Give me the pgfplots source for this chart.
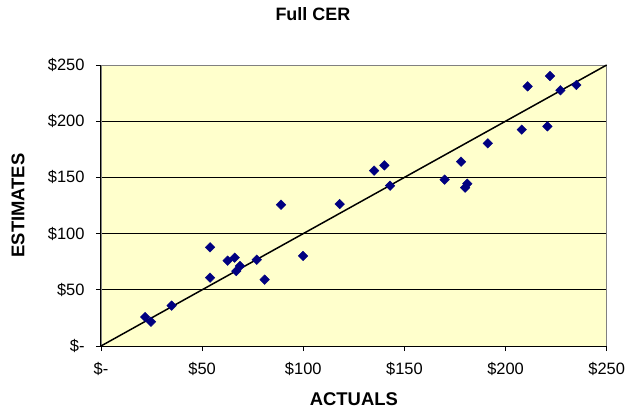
\documentclass[border=0pt]{standalone}
\usepackage{pgfplots}
\pgfplotsset{compat=1.18}
\usepackage{fontspec}
\setmainfont{Liberation Sans}
\definecolor{bgyellow}{RGB}{255,255,204}
\definecolor{navy}{RGB}{0,0,128}
\definecolor{framegray}{RGB}{128,128,128}
\begin{document}
\begin{tikzpicture}
\useasboundingbox (-101bp,-63bp) rectangle (526bp,346bp);
\begin{axis}[
  scale only axis,
  width=505.7bp, height=281bp,
  xmin=0, xmax=250, ymin=0, ymax=250,
  xtick={0,50,100,150,200,250},
  ytick={0,50,100,150,200,250},
  xticklabels={\$-,\$50,\$100,\$150,\$200,\$250},
  yticklabels={\$-,\$50,\$100,\$150,\$200,\$250},
  tick label style={font=\fontsize{16.5}{16.5}\selectfont},
  xticklabel style={yshift=-8bp},
  yticklabel style={xshift=-8bp},
  tick align=outside,
  major tick length=5bp,
  tick style={black, line width=0.8bp},
  xtick pos=bottom, ytick pos=left,
  ymajorgrids,
  grid style={black, line width=0.8bp},
  axis background/.style={fill=bgyellow},
  axis line style={framegray, line width=0.8bp},
  title={Full CER},
  title style={font=\fontsize{18}{18}\selectfont\bfseries, at={(axis description cs:0.419,1)}, anchor=center, yshift=45bp},
  xlabel={ACTUALS},
  xlabel style={font=\fontsize{18.5}{18.5}\selectfont\bfseries, at={(axis description cs:0.5,0)}, anchor=center, yshift=-53bp},
  ylabel={ESTIMATES},
  ylabel style={font=\fontsize{18.5}{18.5}\selectfont\bfseries, at={(axis description cs:0,0.5)}, anchor=center, yshift=83bp},
  clip=false,
]
\draw[black, line width=1bp] (axis cs:0,0) -- (axis cs:0,250);
\draw[black, line width=1bp] (axis cs:0,0) -- (axis cs:250,0);
\addplot[black, line width=1.5bp, no marks] coordinates {(0,0) (250,250)};
\addplot[only marks, mark=square*, mark size=3.4bp, mark options={rotate=45, fill=navy, draw=navy}] coordinates {
(21.8,25.8) (24.7,21.6) (34.9,35.9) (53.9,87.8) (53.9,60.8) (62.6,75.9)
(66.1,78.6) (66.9,66.7) (68.7,71.2) (77.0,76.8) (80.9,59.0) (89.0,125.7)
(99.9,80.1) (118.0,126.3) (135.0,156.0) (140.1,160.7) (142.9,142.6)
(169.9,148.0) (178.0,164.0) (180.0,140.9) (181.1,144.4) (191.2,180.3)
(208.0,192.5) (210.9,231.0) (220.7,195.4) (222.0,240.2) (227.1,227.5)
(235.0,232.2)
};
\end{axis}
\end{tikzpicture}
\end{document}
